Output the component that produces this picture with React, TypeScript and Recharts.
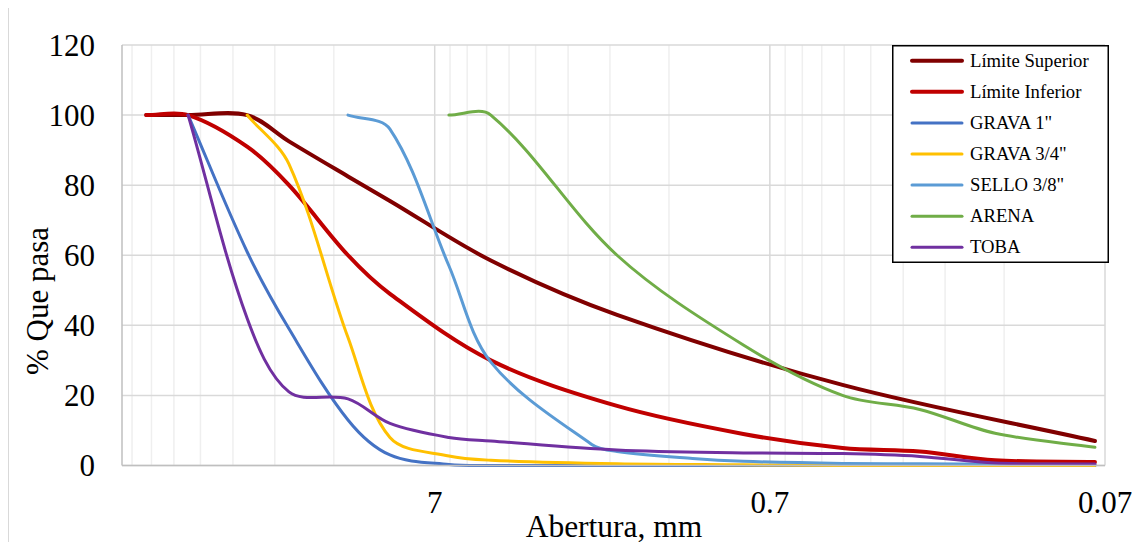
import React from 'react';
import { LineChart, Line, XAxis, YAxis, CartesianGrid } from 'recharts';

const FONT = '"Liberation Serif", "Times New Roman", serif';

// ---- data (sieve opening in mm, % passing) ----
const limSupSizes = [50.8, 38.1, 25.4, 19.05, 12.7, 9.52, 4.76, 2.0, 0.425, 0.075];
const limSupPass = [100, 100, 100, 92.5, 82.5, 75.5, 58.5, 43, 23, 7];

const limInfSizes = [50.8, 38.1, 25.4, 19.05, 12.7, 9.52, 4.76, 2.0, 0.84, 0.425, 0.25, 0.149, 0.075];
const limInfPass = [100, 100, 91, 80, 60, 49, 30, 17, 9, 5, 4, 1.5, 1];

const grava1Sizes = [38.1, 25.4, 19.05, 12.7, 9.52, 6.35, 4.76, 2.0, 0.425, 0.075];
const grava1Pass = [100, 61, 39, 13, 3, 0.3, 0, 0, 0, 0];

const grava34Sizes = [25.4, 19.05, 12.7, 9.52, 6.35, 4.76, 2.0, 0.84, 0.425, 0.075];
const grava34Pass = [100, 86, 36.5, 8, 2.7, 1.5, 0.5, 0.2, 0, 0];

const selloSizes = [12.7, 9.52, 6.35, 4.76, 2.38, 2.0, 1.19, 0.84, 0.425, 0.25, 0.149, 0.075];
const selloPass = [100, 96, 57, 29.5, 6, 4, 2, 1.2, 0.6, 0.5, 0.4, 0.3];

const arenaSizes = [6.35, 4.76, 2.0, 0.84, 0.425, 0.25, 0.149, 0.075];
const arenaPass = [100, 100, 60, 34.4, 20, 16, 9.2, 5.2];

const tobaSizes = [38.1, 25.4, 19.05, 12.7, 9.52, 6.35, 4.76, 2.0, 0.84, 0.425, 0.25, 0.149, 0.075];
const tobaPass = [100, 42, 21, 19, 12, 8, 7, 4.4, 3.6, 3.4, 2.6, 0.7, 0.4];

const seriesNames = ['Límite Superior', 'Límite Inferior', 'GRAVA 1"', 'GRAVA 3/4"', 'SELLO 3/8"', 'ARENA', 'TOBA'];
const seriesColors = ['#800000', '#C00000', '#4472C4', '#FFC000', '#5B9BD5', '#70AD47', '#7030A0'];
const seriesWidths = [4, 4, 3, 3, 3, 3, 3];
const seriesSizes = [limSupSizes, limInfSizes, grava1Sizes, grava34Sizes, selloSizes, arenaSizes, tobaSizes];
const seriesPass = [limSupPass, limInfPass, grava1Pass, grava34Pass, selloPass, arenaPass, tobaPass];

const xMajorTicks = [7, 0.7, 0.07];
const xMinorGrid = [56, 49, 42, 35, 28, 21, 14, 6.3, 5.6, 4.9, 4.2, 3.5, 2.8, 2.1, 1.4, 0.63, 0.56, 0.49, 0.42, 0.35, 0.28, 0.21, 0.14];
const yTicks = [0, 20, 40, 60, 80, 100, 120];
const xDomain = [0.07, 60];

// Excel-like smoothed curve (length-weighted Catmull-Rom Bezier)
function excelSmooth(context: any) {
  let pts: number[][] = [];
  const dist = (a: number[], b: number[]) => Math.hypot(b[0] - a[0], b[1] - a[1]);
  return {
    areaStart() {},
    areaEnd() {},
    lineStart() {
      pts = [];
    },
    lineEnd() {
      const n = pts.length;
      if (n === 0) return;
      context.moveTo(pts[0][0], pts[0][1]);
      if (n === 1) return;
      for (let i = 0; i < n - 1; i++) {
        const p0 = pts[Math.max(0, i - 1)];
        const p1 = pts[i];
        const p2 = pts[i + 1];
        const p3 = pts[Math.min(n - 1, i + 2)];
        const d01 = dist(p0, p1);
        const d12 = dist(p1, p2);
        const d23 = dist(p2, p3);
        const f1 = d01 + d12 > 0 ? d12 / (d01 + d12) / 3 : 0;
        const f2 = d12 + d23 > 0 ? d12 / (d12 + d23) / 3 : 0;
        const c1x = p1[0] + (p2[0] - p0[0]) * f1;
        const c1y = p1[1] + (p2[1] - p0[1]) * f1;
        const c2x = p2[0] - (p3[0] - p1[0]) * f2;
        const c2y = p2[1] - (p3[1] - p1[1]) * f2;
        context.bezierCurveTo(c1x, c1y, c2x, c2y, p2[0], p2[1]);
      }
    },
    point(x: number, y: number) {
      pts.push([x, y]);
    },
  };
}

const XTick = (props: any) => {
  const { x, y, payload } = props;
  return (
    <text x={x} y={y} textAnchor="middle" fontFamily={FONT} fontSize={31} fill="#000">
      {String(payload.value)}
    </text>
  );
};

const YTick = (props: any) => {
  const { x, y, payload } = props;
  return (
    <text x={x} y={y} dy="0.34em" textAnchor="end" fontFamily={FONT} fontSize={31} fill="#000">
      {String(payload.value)}
    </text>
  );
};

export default function App() {
  const datasets = seriesSizes.map((sizes, s) => sizes.map((x, i) => ({ x, y: seriesPass[s][i] })));
  return (
    <div
      style={{
        position: 'relative',
        width: 1136,
        height: 535,
        marginTop: -1,
        borderTop: '1px solid #d9d9d9',
        borderLeft: '1px solid #d9d9d9',
        boxSizing: 'border-box',
        background: '#fff',
      }}
    >
      <LineChart width={1135} height={534} margin={{ top: 37, right: 39, bottom: 16.5, left: 0 }}>
        <CartesianGrid
          stroke="#efefef"
          strokeWidth={1.5}
          horizontal={false}
          verticalValues={xMinorGrid}
        />
        <CartesianGrid
          stroke="#d9d9d9"
          strokeWidth={1.5}
          verticalValues={xMajorTicks}
          horizontalValues={yTicks}
        />
        <XAxis
          dataKey="x"
          type="number"
          scale="log"
          domain={xDomain}
          allowDataOverflow
          reversed
          ticks={xMajorTicks}
          interval={0}
          height={60}
          tickLine={false}
          tickMargin={41}
          axisLine={{ stroke: '#bfbfbf', strokeWidth: 1.5 }}
          tick={<XTick />}
        />
        <YAxis
          type="number"
          domain={[0, 120]}
          ticks={yTicks}
          interval={0}
          width={113}
          tickLine={false}
          tickMargin={21}
          axisLine={{ stroke: '#bfbfbf', strokeWidth: 1.5 }}
          tick={<YTick />}
        />
        {datasets.map((d, s) => (
          <Line
            key={seriesNames[s]}
            data={d}
            dataKey="y"
            name={seriesNames[s]}
            type={excelSmooth as any}
            stroke={seriesColors[s]}
            strokeWidth={seriesWidths[s]}
            strokeLinecap="round"
            strokeLinejoin="round"
            dot={false}
            activeDot={false}
            isAnimationActive={false}
          />
        ))}
      </LineChart>
      <svg
        width={1135}
        height={534}
        style={{ position: 'absolute', left: 0, top: 0, pointerEvents: 'none' }}
      >
        <text x={605} y={528.5} textAnchor="middle" fontFamily={FONT} fontSize={31.5} fill="#000">
          Abertura, mm
        </text>
        <text
          x={0}
          y={0}
          transform="translate(39 293) rotate(-90)"
          textAnchor="middle"
          fontFamily={FONT}
          fontSize={31}
          fill="#000"
        >
          % Que pasa
        </text>
      </svg>
      <svg
        width={217}
        height={218}
        style={{ position: 'absolute', left: 883, top: 37 }}
      >
        <rect x={0.75} y={0.75} width={215.5} height={216.5} fill="#fff" stroke="#000" strokeWidth={1.5} />
        {seriesNames.map((n, i) => {
          const cy = 15.7 + 31.1 * i;
          return (
            <g key={n}>
              <line
                x1={20}
                x2={70}
                y1={cy}
                y2={cy}
                stroke={seriesColors[i]}
                strokeWidth={seriesWidths[i]}
                strokeLinecap="round"
              />
              <text x={78} y={cy} dy="0.33em" fontFamily={FONT} fontSize={18.67} fill="#000">
                {n}
              </text>
            </g>
          );
        })}
      </svg>
    </div>
  );
}
